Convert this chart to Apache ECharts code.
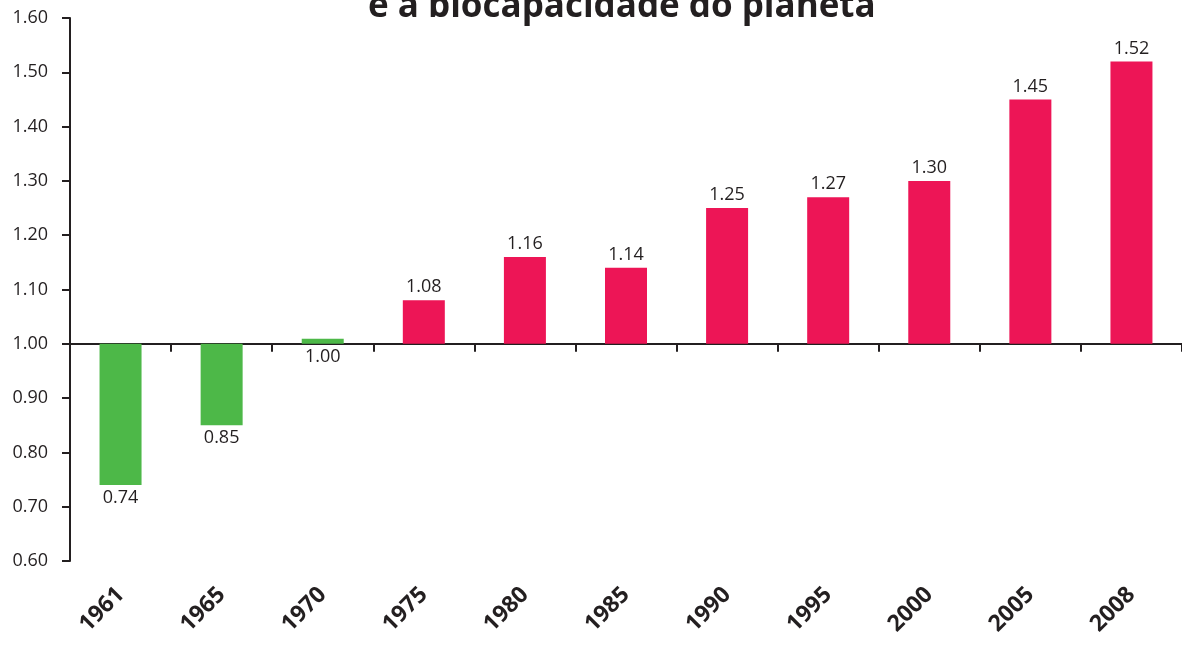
<!DOCTYPE html>
<html>
<head>
<meta charset="utf-8">
<script src="https://cdn.jsdelivr.net/npm/echarts@6/dist/echarts.min.js"></script>
<style>
html,body{margin:0;padding:0;background:#fff;}
#chart{width:1182px;height:654px;}
</style>
</head>
<body>
<div id="chart"></div>
<script>
const titleText = 'e a biocapacidade do planeta';
const years = ['1961','1965','1970','1975','1980','1985','1990','1995','2000','2005','2008'];
const values = [0.74, 0.85, 1.00, 1.08, 1.16, 1.14, 1.25, 1.27, 1.30, 1.45, 1.52];
const baseline = 1.00;
const yMin = 0.60, yMax = 1.60, yStep = 0.10;

const GREEN = '#4db848';
const PINK = '#ed1556';
const INK = '#231f20';
const FONT = '"Open Sans", "Noto Sans", sans-serif';

const chart = echarts.init(document.getElementById('chart'), null, {renderer: 'canvas'});

const seriesData = values.map((v, i) => {
  const below = v <= baseline;
  return {
    value: +(v - baseline).toFixed(4),
    itemStyle: {color: below ? GREEN : PINK},
    label: {position: below ? 'bottom' : 'top'}
  };
});

chart.setOption({
  animation: false,
  backgroundColor: '#ffffff',
  grid: {left: 70, right: 0, top: 18, bottom: 93, containLabel: false},
  graphic: [{
    type: 'text',
    left: 368,
    top: -10,
    style: {
      text: titleText,
      font: 'bold 35px ' + FONT,
      fill: INK
    }
  }],
  xAxis: [{
    type: 'category',
    data: years,
    position: 'bottom',
    axisLine: {onZero: true, lineStyle: {color: INK, width: 2}},
    axisTick: {show: true, length: 8, inside: false, lineStyle: {color: INK, width: 2}},
    axisLabel: {show: false},
    splitLine: {show: false}
  }, {
    type: 'category',
    data: years,
    position: 'bottom',
    axisLine: {show: false, onZero: false},
    axisTick: {show: false},
    axisLabel: {
      show: true, rotate: 45, margin: 30,
      fontFamily: FONT, fontWeight: 'bold', fontSize: 23, color: INK
    },
    splitLine: {show: false}
  }],
  yAxis: {
    type: 'value',
    min: yMin - baseline,
    max: yMax - baseline,
    interval: yStep,
    axisLine: {show: true, lineStyle: {color: INK, width: 2}},
    axisTick: {show: true, length: 8, lineStyle: {color: INK, width: 2}},
    axisLabel: {
      margin: 22,
      fontFamily: FONT, fontSize: 18, color: INK,
      formatter: v => (v + baseline).toFixed(2)
    },
    splitLine: {show: false}
  },
  series: [{
    type: 'bar',
    xAxisIndex: 0,
    data: seriesData,
    barWidth: 42,
    barMinHeight: 5,
    label: {
      show: true,
      distance: 4,
      fontFamily: FONT, fontSize: 18, color: INK,
      formatter: p => values[p.dataIndex].toFixed(2)
    }
  }]
});
</script>
</body>
</html>
